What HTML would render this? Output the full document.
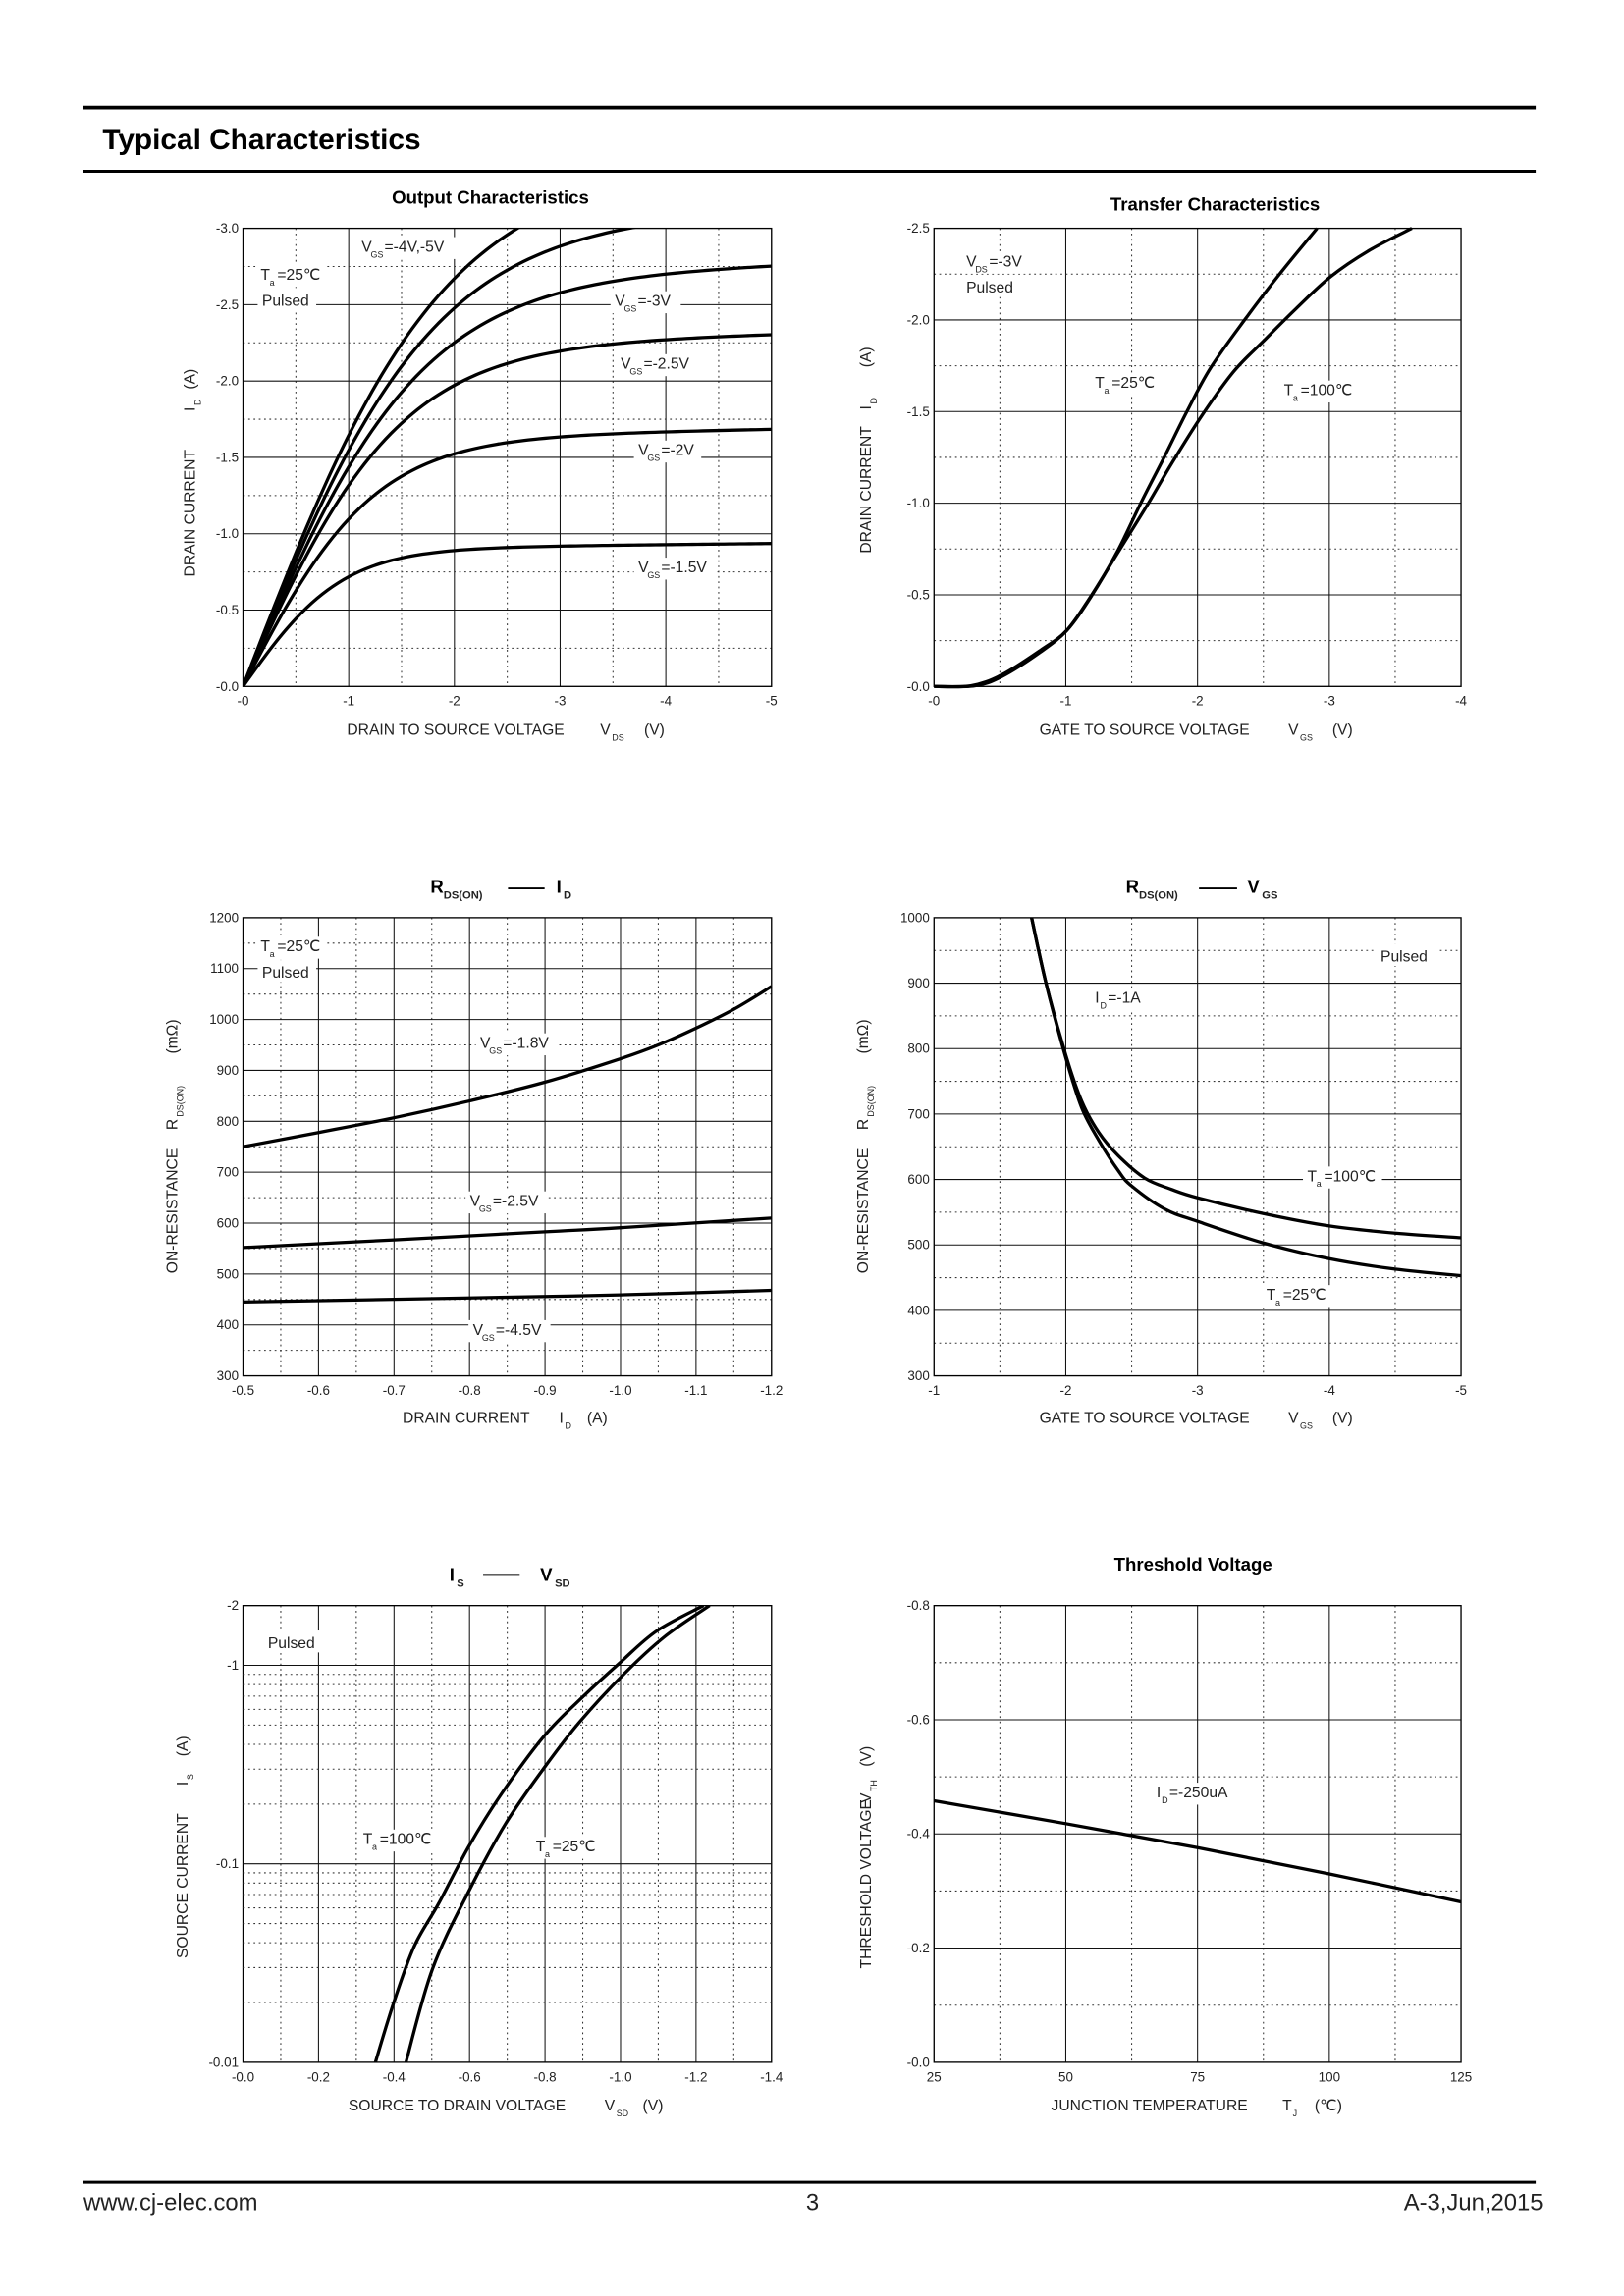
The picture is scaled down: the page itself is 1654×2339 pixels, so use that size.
<!DOCTYPE html>
<html><head><meta charset="utf-8"><style>
html,body{margin:0;padding:0;background:#fff;}
svg{display:block;}
text{font-family:"Liberation Sans",Arial,sans-serif;fill:#222;}
.t{font-size:9px;}
.lab{font-size:10.5px;}
.sub{font-size:6px;}
.ttl{font-size:12.5px;font-weight:bold;fill:#000;}
</style></head><body>
<svg id="s" width="1654" height="2339" viewBox="0 0 1109.3 1568.7" preserveAspectRatio="none" xmlns="http://www.w3.org/2000/svg">
<rect width="1109.3" height="1568.7" fill="#fff"/>
<line x1="57" y1="73.5" x2="1049" y2="73.5" stroke="#000" stroke-width="2.5"/>
<text x="70" y="102" style="font-size:20px;font-weight:bold;fill:#000">Typical Characteristics</text>
<line x1="57" y1="117" x2="1049" y2="117" stroke="#000" stroke-width="2"/>
<line x1="57" y1="1491" x2="1049" y2="1491" stroke="#000" stroke-width="2"/>
<text x="57" y="1510" style="font-size:16px">www.cj-elec.com</text>
<text x="555" y="1510" text-anchor="middle" style="font-size:16px">3</text>
<text x="1054" y="1510" text-anchor="end" style="font-size:16px">A-3,Jun,2015</text>
<g id="g"></g>
<g id="labels">
<text class="ttl" x="335" y="139" text-anchor="middle">Output Characteristics</text>
<text class="lab" x="237" y="502">DRAIN TO SOURCE VOLTAGE</text>
<text class="lab" x="410" y="502">V</text><text class="sub" x="418" y="506">DS</text>
<text class="lab" x="440" y="502">(V)</text>
<text class="lab" transform="translate(133,394) rotate(-90)">DRAIN CURRENT</text>
<text class="lab" transform="translate(133,281) rotate(-90)">I</text>
<text class="sub" transform="translate(137,277) rotate(-90)">D</text>
<text class="lab" transform="translate(133,266) rotate(-90)">(A)</text>
<text class="ttl" x="830" y="144" text-anchor="middle">Transfer Characteristics</text>
<text class="lab" x="710" y="502">GATE TO SOURCE VOLTAGE</text>
<text class="lab" x="880" y="502">V</text><text class="sub" x="888" y="506">GS</text>
<text class="lab" x="910" y="502">(V)</text>
<text class="lab" transform="translate(595,378) rotate(-90)">DRAIN CURRENT</text>
<text class="lab" transform="translate(595,280) rotate(-90)">I</text>
<text class="sub" transform="translate(599,276) rotate(-90)">D</text>
<text class="lab" transform="translate(595,251) rotate(-90)">(A)</text>
<text class="ttl" x="294" y="610">R</text><text style="font-size:7.5px;font-weight:bold" x="303" y="614">DS(ON)</text>
<line x1="347" y1="607" x2="372" y2="607" stroke="#000" stroke-width="1.3"/>
<text class="ttl" x="380" y="610">I</text><text style="font-size:7.5px;font-weight:bold" x="385" y="614">D</text>
<text class="lab" x="275" y="972">DRAIN CURRENT</text>
<text class="lab" x="382" y="972">I</text><text class="sub" x="386" y="976">D</text>
<text class="lab" x="401" y="972">(A)</text>
<text class="lab" transform="translate(121,870) rotate(-90)">ON-RESISTANCE</text>
<text class="lab" transform="translate(121,772) rotate(-90)">R</text>
<text class="sub" transform="translate(125,763) rotate(-90)">DS(ON)</text>
<text class="lab" transform="translate(121,720) rotate(-90)">(mΩ)</text>
<text class="ttl" x="769" y="610">R</text><text style="font-size:7.5px;font-weight:bold" x="778" y="614">DS(ON)</text>
<line x1="819" y1="607" x2="845" y2="607" stroke="#000" stroke-width="1.3"/>
<text class="ttl" x="852" y="610">V</text><text style="font-size:7.5px;font-weight:bold" x="862" y="614">GS</text>
<text class="lab" x="710" y="972">GATE TO SOURCE VOLTAGE</text>
<text class="lab" x="880" y="972">V</text><text class="sub" x="888" y="976">GS</text>
<text class="lab" x="910" y="972">(V)</text>
<text class="lab" transform="translate(593,870) rotate(-90)">ON-RESISTANCE</text>
<text class="lab" transform="translate(593,772) rotate(-90)">R</text>
<text class="sub" transform="translate(597,763) rotate(-90)">DS(ON)</text>
<text class="lab" transform="translate(593,720) rotate(-90)">(mΩ)</text>
<text class="ttl" x="307" y="1080">I</text><text style="font-size:7.5px;font-weight:bold" x="312" y="1084">S</text>
<line x1="330" y1="1076" x2="355" y2="1076" stroke="#000" stroke-width="1.3"/>
<text class="ttl" x="369" y="1080">V</text><text style="font-size:7.5px;font-weight:bold" x="379" y="1084">SD</text>
<text class="lab" x="238" y="1442">SOURCE TO DRAIN VOLTAGE</text>
<text class="lab" x="413" y="1442">V</text><text class="sub" x="421" y="1446">SD</text>
<text class="lab" x="439" y="1442">(V)</text>
<text class="lab" transform="translate(128,1338) rotate(-90)">SOURCE CURRENT</text>
<text class="lab" transform="translate(128,1220) rotate(-90)">I</text>
<text class="sub" transform="translate(132,1216) rotate(-90)">S</text>
<text class="lab" transform="translate(128,1200) rotate(-90)">(A)</text>
<text class="ttl" x="815" y="1073" text-anchor="middle">Threshold Voltage</text>
<text class="lab" x="718" y="1442">JUNCTION TEMPERATURE</text>
<text class="lab" x="876" y="1442">T</text><text class="sub" x="883" y="1446">J</text>
<text class="lab" x="898" y="1442">(℃)</text>
<text class="lab" transform="translate(595,1345) rotate(-90)">THRESHOLD VOLTAGE</text>
<text class="lab" transform="translate(595,1232) rotate(-90)">V</text>
<text class="sub" transform="translate(599,1224) rotate(-90)">TH</text>
<text class="lab" transform="translate(595,1207) rotate(-90)">(V)</text>
</g>
<g id="ann"></g>
</svg>
<script>
var NS="http://www.w3.org/2000/svg";
var G=document.getElementById('g'), A=document.getElementById('ann');
function el(p,tag,at,tx){var e=document.createElementNS(NS,tag);for(var k in at)e.setAttribute(k,at[k]);if(tx!==undefined)e.textContent=tx;p.appendChild(e);return e;}
var DOT="1.2,2.4";
function grid(c){
  var x0=c.x0,x1=c.x1,y0=c.y0,y1=c.y1,i;
  var nx=c.xl.length-1, ny=c.yl.length-1;
  var dx=(x1-x0)/nx, dy=(y1-y0)/ny;
  for(i=0;i<nx;i++){ var xm=x0+dx*(i+0.5);
    el(G,'line',{x1:xm,y1:y0,x2:xm,y2:y1,stroke:'#333','stroke-width':0.7,'stroke-dasharray':DOT});
    if(i>0)el(G,'line',{x1:x0+dx*i,y1:y0,x2:x0+dx*i,y2:y1,stroke:'#111','stroke-width':0.7});}
  if(!c.log){
  for(i=0;i<ny;i++){ var ym=y0+dy*(i+0.5);
    el(G,'line',{x1:x0,y1:ym,x2:x1,y2:ym,stroke:'#333','stroke-width':0.7,'stroke-dasharray':DOT});
    if(i>0)el(G,'line',{x1:x0,y1:y0+dy*i,x2:x1,y2:y0+dy*i,stroke:'#111','stroke-width':0.7});}
  }
  el(G,'rect',{x:x0,y:y0,width:x1-x0,height:y1-y0,fill:'none',stroke:'#000','stroke-width':0.9});
  for(i=0;i<=nx;i++) el(G,'text',{x:x0+dx*i,y:y1+13,'text-anchor':'middle','class':'t'},c.xl[i]);
  if(!c.log) for(i=0;i<=ny;i++) el(G,'text',{x:x0-3,y:y1-dy*i+3,'text-anchor':'end','class':'t'},c.yl[i]);
}
function smooth(p){
  var d='M'+p[0][0].toFixed(2)+','+p[0][1].toFixed(2);
  for(var i=0;i<p.length-1;i++){
    var p0=p[i-1]||p[i],p1=p[i],p2=p[i+1],p3=p[i+2]||p2;
    var c1=[p1[0]+(p2[0]-p0[0])/6,p1[1]+(p2[1]-p0[1])/6];
    var c2=[p2[0]-(p3[0]-p1[0])/6,p2[1]-(p3[1]-p1[1])/6];
    d+='C'+c1[0].toFixed(2)+','+c1[1].toFixed(2)+' '+c2[0].toFixed(2)+','+c2[1].toFixed(2)+' '+p2[0].toFixed(2)+','+p2[1].toFixed(2);
  }return d;}
function curve(pts,clip){var a={d:smooth(pts),fill:'none',stroke:'#000','stroke-width':2.2,'stroke-linejoin':'round'};if(clip)a['clip-path']='url(#'+clip+')';el(G,'path',a);}
function clip(id,x,y,w,h){var cp=el(G,'clipPath',{id:id});el(cp,'rect',{x:x,y:y,width:w,height:h});}
function label(x,y,main,sub,rest,w){
  if(w) el(A,'rect',{x:x-3,y:y-10,width:w,height:15,fill:'#fff'});
  el(A,'text',{x:x,y:y,'class':'lab'},main);
  var mw=(main==='I')?3.5:main.length*6.2;
  if(sub){el(A,'text',{x:x+mw,y:y+4,'class':'sub'},sub);
    el(A,'text',{x:x+mw+sub.length*4.2+1,y:y,'class':'lab'},rest);}
}
grid({x0:166,x1:527,y0:156,y1:469,xl:['-0','-1','-2','-3','-4','-5'],yl:['-0.0','-0.5','-1.0','-1.5','-2.0','-2.5','-3.0']});
clip('c1',166,156,361,313);
[[0.9,0.93,0.008],[1.62,1.23,0.008],[2.22,1.48,0.008],[2.66,1.67,0.008],[3.05,1.8,0.005],[3.3,1.85,0.01]].forEach(function(q){
  var pts=[];for(var v=0;v<=5.001;v+=0.1){var I=q[0]*Math.tanh(v/q[1])*(1+q[2]*v);pts.push([166+v/5*361,469-I/3*313]);}
  curve(pts,'c1');});
grid({x0:638,x1:998,y0:156,y1:469,xl:['-0','-1','-2','-3','-4'],yl:['-0.0','-0.5','-1.0','-1.5','-2.0','-2.5']});
function m2(a){return a.map(function(z){return [638+(z[0]-25)/1362*360,156+(z[1]-152)/1308*313];});}
curve(m2([[25,1460],[130,1458],[200,1432],[300,1362],[368,1300],[430,1205],[500,1072],[560,935],[620,805],[680,672],[740,550],[830,410],[920,280],[1015,152]]));
curve(m2([[25,1460],[120,1458],[200,1427],[300,1357],[368,1300],[430,1203],[500,1078],[580,935],[640,822],[720,682],[800,560],[880,470],[960,382],[1050,290],[1150,215],[1260,152]]));
grid({x0:166,x1:527,y0:627,y1:940,xl:['-0.5','-0.6','-0.7','-0.8','-0.9','-1.0','-1.1','-1.2'],yl:['300','400','500','600','700','800','900','1000','1100','1200']});
function m3(a){return a.map(function(z){return [166+(z[0]-0.5)/0.7*361,940-(z[1]-300)/900*313];});}
curve(m3([[0.5,750],[0.6,778],[0.7,807],[0.8,840],[0.9,877],[1.0,923],[1.05,950],[1.1,983],[1.15,1020],[1.2,1065]]));
curve(m3([[0.5,552],[0.7,567],[0.9,583],[1.0,591],[1.2,610]]));
curve(m3([[0.5,445],[0.8,453],[1.0,459],[1.2,468]]));
grid({x0:638,x1:998,y0:627,y1:940,xl:['-1','-2','-3','-4','-5'],yl:['300','400','500','600','700','800','900','1000']});
clip('c4',638,627,360,313);
function m4(a){return a.map(function(z){return [638+(z[0]-1)/4*360,940-(z[1]-300)/700*313];});}
curve(m4([[1.73,1010],[1.85,900],[2.0,790],[2.12,720],[2.25,672],[2.4,636],[2.6,602],[2.8,585],[3.0,572],[3.5,548],[4.0,529],[4.5,518],[5.0,511]]),'c4');
curve(m4([[1.73,1010],[1.85,900],[2.0,786],[2.12,710],[2.25,660],[2.4,613],[2.5,590],[2.75,555],[3.0,536],[3.5,503],[4.0,479],[4.5,463],[5.0,453]]),'c4');
grid({x0:166,x1:527,y0:1097,y1:1409,log:true,xl:['-0.0','-0.2','-0.4','-0.6','-0.8','-1.0','-1.2','-1.4'],yl:['','']});
(function(){var yb=1409,dec=(1409-1097)/Math.log10(200);
  function Y(v){return yb-Math.log10(v/0.01)*dec;}
  [0.1,1].forEach(function(v){el(G,'line',{x1:166,y1:Y(v),x2:527,y2:Y(v),stroke:'#111','stroke-width':0.7});});
  [0.01,0.1].forEach(function(d){for(var k=2;k<=9;k++)el(G,'line',{x1:166,y1:Y(d*k),x2:527,y2:Y(d*k),stroke:'#333','stroke-width':0.7,'stroke-dasharray':DOT});});
  [['-0.01',0.01],['-0.1',0.1],['-1',1],['-2',2]].forEach(function(q){el(G,'text',{x:163,y:Y(q[1])+3,'text-anchor':'end','class':'t'},q[0]);});
})();
clip('c5',166,1097,361,312);
function m5(a){return a.map(function(z){return [166+(z[0]-235)/1297*361,1097+(z[1]-147)/1223*312];});}
curve(m5([[548,1420],[560,1370],[605,1210],[655,1060],[715,945],[790,790],[870,650],[975,495],[1075,385],[1160,300],[1250,215],[1365,147]]),'c5');
curve(m5([[625,1420],[635,1370],[700,1120],[790,910],[880,730],[975,580],[1060,460],[1170,330],[1270,230],[1380,147]]),'c5');
grid({x0:638,x1:998,y0:1097,y1:1409,xl:['25','50','75','100','125'],yl:['-0.0','-0.2','-0.4','-0.6','-0.8']});
function m6(a){return a.map(function(z){return [638+(z[0]-25)/100*360,1409-z[1]/0.8*312];});}
curve(m6([[25,0.458],[50,0.418],[75,0.376],[100,0.33],[125,0.281]]));
label(247,172,'V','GS','=-4V,-5V',78);
label(178,191,'T','a','=25℃',48); el(A,'rect',{x:176,y:197,width:40,height:15,fill:'#fff'}); el(A,'text',{x:179,y:209,'class':'lab'},'Pulsed');
label(420,209,'V','GS','=-3V',48);
label(424,252,'V','GS','=-2.5V',56);
label(436,311,'V','GS','=-2V',46);
label(436,391,'V','GS','=-1.5V',56);
label(660,182,'V','DS','=-3V',46); el(A,'rect',{x:657,y:188,width:42,height:15,fill:'#fff'}); el(A,'text',{x:660,y:200,'class':'lab'},'Pulsed');
label(748,265,'T','a','=25℃',48);
label(877,270,'T','a','=100℃',54);
label(178,650,'T','a','=25℃',48); el(A,'rect',{x:176,y:656,width:40,height:15,fill:'#fff'}); el(A,'text',{x:179,y:668,'class':'lab'},'Pulsed');
label(328,716,'V','GS','=-1.8V',56);
label(321,824,'V','GS','=-2.5V',56);
label(323,912,'V','GS','=-4.5V',56);
el(A,'rect',{x:940,y:645,width:42,height:15,fill:'#fff'}); el(A,'text',{x:943,y:657,'class':'lab'},'Pulsed');
label(748,685,'I','D','=-1A',40);
label(893,807,'T','a','=100℃',54);
label(865,888,'T','a','=25℃',48);
el(A,'rect',{x:180,y:1114,width:40,height:15,fill:'#fff'}); el(A,'text',{x:183,y:1126,'class':'lab'},'Pulsed');
label(248,1260,'T','a','=100℃',54);
label(366,1265,'T','a','=25℃',48);
label(790,1228,'I','D','=-250uA',60);
</script>
</body></html>
